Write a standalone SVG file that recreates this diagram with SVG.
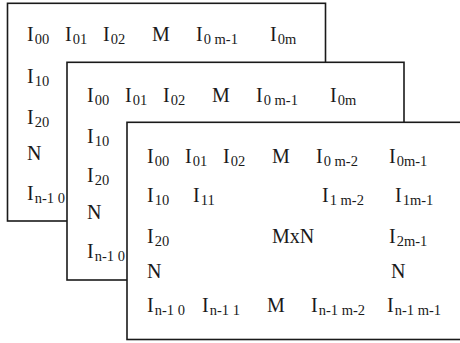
<svg xmlns="http://www.w3.org/2000/svg" width="460" height="343" viewBox="0 0 460 343">
<style>
.box{fill:#fff;stroke:#1a1a1a;stroke-width:1.6}
text{font-family:"Liberation Serif","Times New Roman","DejaVu Serif",serif;font-size:20px;fill:#1a1a1a}
.s{font-size:14.5px}
</style>
<rect width="460" height="343" fill="#fff"/>
<g id="matrix1">
<rect class="box" x="7.5" y="3.3" width="318" height="217.7"/>
<text x="27" y="41">I<tspan class="s" dx="1" dy="3">00</tspan></text>
<text x="65" y="41">I<tspan class="s" dx="1" dy="3">01</tspan></text>
<text x="103" y="41">I<tspan class="s" dx="1" dy="3">02</tspan></text>
<text x="152" y="41">M</text>
<text x="196" y="41">I<tspan class="s" dx="1" dy="3">0 m-1</tspan></text>
<text x="270" y="41">I<tspan class="s" dx="1" dy="3">0m</tspan></text>
<text x="27" y="83">I<tspan class="s" dx="1" dy="3">10</tspan></text>
<text x="27" y="124">I<tspan class="s" dx="1" dy="3">20</tspan></text>
<text x="27" y="160">N</text>
<text x="27" y="200">I<tspan class="s" dx="1" dy="3">n-1 0</tspan></text>
</g>
<g id="matrix2">
<rect class="box" x="67" y="62.3" width="337" height="217.7"/>
<text x="87" y="102">I<tspan class="s" dx="1" dy="3">00</tspan></text>
<text x="125" y="102">I<tspan class="s" dx="1" dy="3">01</tspan></text>
<text x="163" y="102">I<tspan class="s" dx="1" dy="3">02</tspan></text>
<text x="212" y="102">M</text>
<text x="256" y="102">I<tspan class="s" dx="1" dy="3">0 m-1</tspan></text>
<text x="330" y="102">I<tspan class="s" dx="1" dy="3">0m</tspan></text>
<text x="87" y="143">I<tspan class="s" dx="1" dy="3">10</tspan></text>
<text x="87" y="182">I<tspan class="s" dx="1" dy="3">20</tspan></text>
<text x="87" y="219">N</text>
<text x="87" y="258">I<tspan class="s" dx="1" dy="3">n-1 0</tspan></text>
</g>
<g id="matrix3">
<rect class="box" x="127" y="122.3" width="340" height="217.2"/>
<text x="147" y="163">I<tspan class="s" dx="1" dy="3">00</tspan></text>
<text x="185" y="163">I<tspan class="s" dx="1" dy="3">01</tspan></text>
<text x="223" y="163">I<tspan class="s" dx="1" dy="3">02</tspan></text>
<text x="272" y="163">M</text>
<text x="316" y="163">I<tspan class="s" dx="1" dy="3">0 m-2</tspan></text>
<text x="389" y="163">I<tspan class="s" dx="1" dy="3">0m-1</tspan></text>
<text x="147" y="202">I<tspan class="s" dx="1" dy="3">10</tspan></text>
<text x="193" y="202">I<tspan class="s" dx="1" dy="3">11</tspan></text>
<text x="322" y="202">I<tspan class="s" dx="1" dy="3">1 m-2</tspan></text>
<text x="395" y="202">I<tspan class="s" dx="1" dy="3">1m-1</tspan></text>
<text x="147" y="243">I<tspan class="s" dx="1" dy="3">20</tspan></text>
<text x="272" y="243">MxN</text>
<text x="389" y="243">I<tspan class="s" dx="1" dy="3">2m-1</tspan></text>
<text x="147" y="278">N</text>
<text x="391" y="278">N</text>
<text x="147" y="312">I<tspan class="s" dx="1" dy="3">n-1 0</tspan></text>
<text x="202" y="312">I<tspan class="s" dx="1" dy="3">n-1 1</tspan></text>
<text x="267" y="312">M</text>
<text x="311" y="312">I<tspan class="s" dx="1" dy="3">n-1 m-2</tspan></text>
<text x="387" y="312">I<tspan class="s" dx="1" dy="3">n-1 m-1</tspan></text>
</g>
</svg>
